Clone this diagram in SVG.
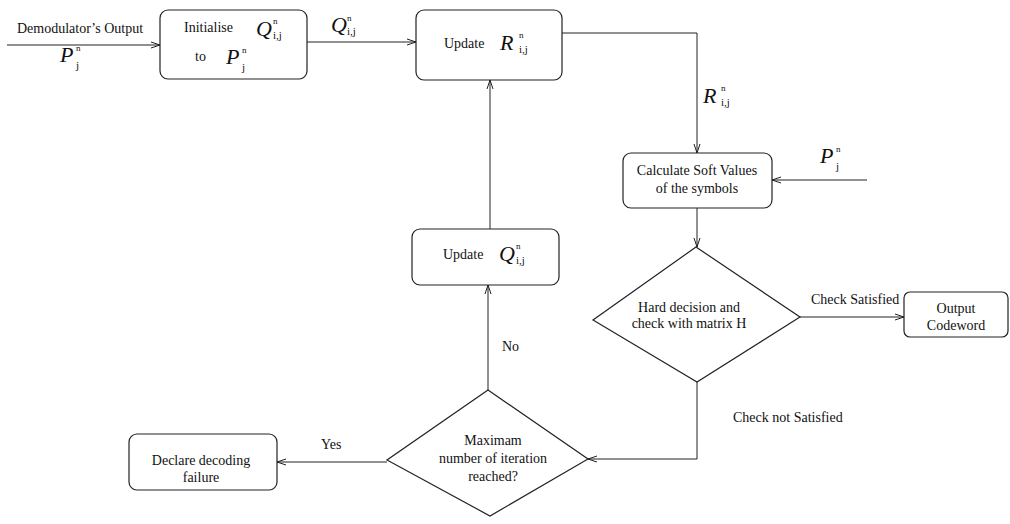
<svg xmlns="http://www.w3.org/2000/svg" width="1010" height="524" viewBox="0 0 1010 524">
<defs>
<style>
.box{fill:#fff;stroke:#222;stroke-width:1.2}
.ln{fill:none;stroke:#222;stroke-width:1}
text{font-family:"Liberation Serif","Times New Roman",serif;font-size:14px;fill:#111}
.m{font-style:italic;font-size:22px}
.sup{font-size:9px}
.sub{font-size:11px}
.c{text-anchor:middle}
</style>
<marker id="ah" markerWidth="10" markerHeight="8" refX="9" refY="4" orient="auto" markerUnits="userSpaceOnUse">
<path d="M0,1 L9,4 L0,7" fill="none" stroke="#222" stroke-width="1"/>
</marker>
</defs>
<rect width="1010" height="524" fill="#fff"/>

<g id="connectors">
<line class="ln" x1="7" y1="45" x2="160" y2="45" marker-end="url(#ah)"/>
<line class="ln" x1="307" y1="42" x2="416" y2="42" marker-end="url(#ah)"/>
<polyline class="ln" points="562,33 697,33 697,153" marker-end="url(#ah)"/>
<line class="ln" x1="867" y1="180" x2="772" y2="180" marker-end="url(#ah)"/>
<line class="ln" x1="697" y1="208" x2="697" y2="247" marker-end="url(#ah)"/>
<line class="ln" x1="800" y1="317" x2="904" y2="317" marker-end="url(#ah)"/>
<polyline class="ln" points="697,382 697,459 588,459" marker-end="url(#ah)"/>
<line class="ln" x1="387" y1="462" x2="277" y2="462" marker-end="url(#ah)"/>
<line class="ln" x1="488" y1="390" x2="488" y2="285" marker-end="url(#ah)"/>
<line class="ln" x1="490" y1="229" x2="490" y2="80" marker-end="url(#ah)"/>
</g>

<g id="labels">
<text x="80" y="33" class="c">Demodulator’s Output</text>
<text x="60" y="62" class="m">P</text><text x="76" y="51" class="sup">n</text><text x="76" y="69" class="sub">j</text>
<text x="331" y="32" class="m">Q</text><text x="347" y="21" class="sup">n</text><text x="347" y="35" class="sub">i,j</text>
<text x="703" y="103" class="m">R</text><text x="721" y="91" class="sup">n</text><text x="721" y="106" class="sub">i,j</text>
<text x="820" y="163" class="m">P</text><text x="836" y="152" class="sup">n</text><text x="836" y="170" class="sub">j</text>
<text x="811" y="304">Check Satisfied</text>
<text x="733" y="422">Check not Satisfied</text>
<text x="502" y="351">No</text>
<text x="321" y="449">Yes</text>
</g>

<g id="init">
<rect class="box" x="160" y="10" width="147" height="69" rx="8"/>
<text x="184" y="32">Initialise</text>
<text x="256" y="36" class="m">Q</text><text x="273" y="24" class="sup">n</text><text x="273" y="39" class="sub">i,j</text>
<text x="195" y="61">to</text>
<text x="226" y="64" class="m">P</text><text x="242" y="53" class="sup">n</text><text x="242" y="71" class="sub">j</text>
</g>

<g id="updateR">
<rect class="box" x="416" y="10" width="146" height="70" rx="8"/>
<text x="444" y="48">Update</text>
<text x="500" y="50" class="m">R</text><text x="519" y="38" class="sup">n</text><text x="519" y="53" class="sub">i,j</text>
</g>

<g id="calc">
<rect class="box" x="623" y="153" width="149" height="55" rx="8"/>
<text x="697" y="175" class="c">Calculate Soft Values</text>
<text x="697" y="193" class="c">of the symbols</text>
</g>

<g id="hard">
<polygon class="box" points="696,247 800,317 697,382 593,320"/>
<text x="689" y="312" class="c">Hard decision and</text>
<text x="689" y="328" class="c">check with matrix H</text>
</g>

<g id="output">
<rect class="box" x="904" y="292" width="104" height="45" rx="6"/>
<text x="956" y="313" class="c">Output</text>
<text x="956" y="330" class="c">Codeword</text>
</g>

<g id="updateQ">
<rect class="box" x="412" y="229" width="147" height="56" rx="8"/>
<text x="443" y="259">Update</text>
<text x="499" y="261" class="m">Q</text><text x="516" y="249" class="sup">n</text><text x="516" y="264" class="sub">i,j</text>
</g>

<g id="maxiter">
<polygon class="box" points="488,390 588,459 490,516 387,460"/>
<text x="493" y="445" class="c">Maximam</text>
<text x="493" y="463" class="c">number of iteration</text>
<text x="493" y="481" class="c">reached?</text>
</g>

<g id="declare">
<rect class="box" x="129" y="434" width="148" height="56" rx="8"/>
<text x="201" y="465" class="c">Declare decoding</text>
<text x="201" y="482" class="c">failure</text>
</g>
</svg>
